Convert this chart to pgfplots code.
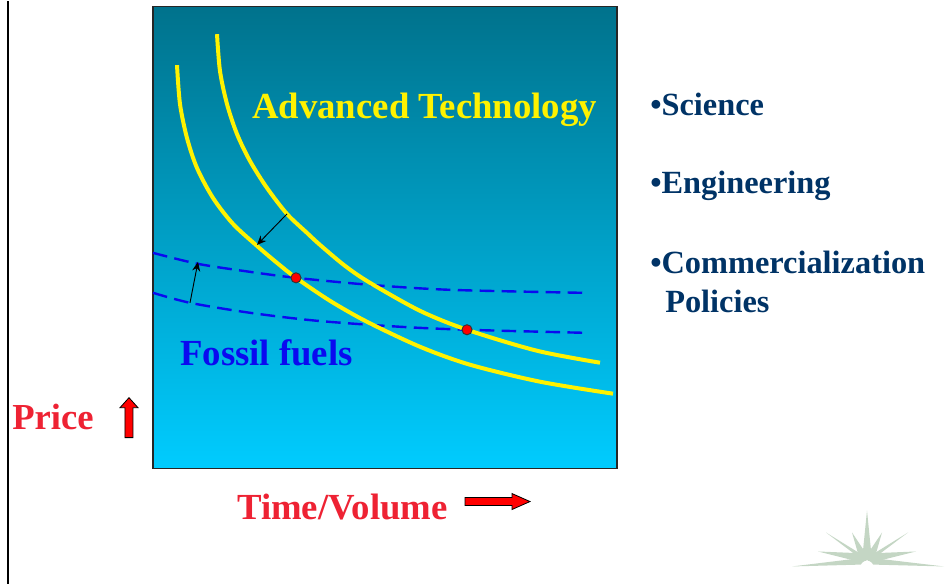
\documentclass[border=0pt]{standalone}
\usepackage{pgfplots}
\pgfplotsset{compat=1.18}
\usepackage{fontspec}
\setmainfont{Liberation Serif}
\usetikzlibrary{arrows.meta}
\definecolor{topc}{RGB}{0,114,140}
\definecolor{botc}{RGB}{0,204,255}
\definecolor{navy}{RGB}{0,51,102}
\definecolor{tred}{RGB}{238,34,51}
\definecolor{logoc}{RGB}{196,214,196}
\definecolor{fblue}{RGB}{10,10,240}
\begin{document}
\begin{tikzpicture}
\begin{axis}[
  scale only axis, width=348pt, height=347.25pt,
  xmin=153, xmax=617, ymin=5, ymax=468, y dir=reverse,
  xtick=\empty, ytick=\empty, clip=false,
  axis line style={line width=0.8pt, black!85},
  axis background/.style={shade, top color=topc, bottom color=botc},
]
% page extent
\path (axis cs:0,0) rectangle (axis cs:951,584);
% fossil fuel curves (dashed)
\addplot[fblue, line width=1.8pt, dash pattern=on 11pt off 5.5pt, smooth] coordinates {
 (153,252) (198,263) (250,271) (296,277) (370,284) (450,289) (583,292)};
\addplot[fblue, line width=1.8pt, dash pattern=on 11pt off 5.5pt, smooth] coordinates {
 (153,292) (190,302) (250,312) (317,320) (400,326) (467,329) (583,332)};
% advanced technology curves
\addplot[yellow, line width=3pt, smooth] coordinates {
 (217,33) (220,70) (227,103) (237,133) (250,160) (267,187) (287,213) (307,232)
 (320,244) (345,265) (370,282) (420,310) (467,329) (537,350) (600,362)};
\addplot[yellow, line width=3pt, smooth] coordinates {
 (177,64) (180,103) (187,137) (197,167) (213,197) (233,223) (257,245) (277,262)
 (296,277) (330,300) (367,321) (420,346) (470,364) (540,381) (613,393)};
% intersection dots
\addplot[only marks, mark=*, mark size=3.8pt, mark options={fill=red, draw=black!80, line width=0.7pt}] coordinates {(296,277) (467,329)};
% shift arrows
\draw[-{Stealth[length=7pt,width=6pt]}, line width=0.7pt] (axis cs:287,213) -- (axis cs:257,244);
\draw[-{Stealth[length=7pt,width=6pt]}, line width=0.7pt] (axis cs:190,302) -- (axis cs:198,261);
% texts in plot
\node[anchor=base west, inner sep=0, text=yellow, font=\bfseries\fontsize{27.6}{30}\selectfont] at (axis cs:252,117) {Advanced Technology};
\node[anchor=base west, inner sep=0, text=fblue, font=\bfseries\fontsize{27.6}{30}\selectfont] at (axis cs:180,365) {Fossil fuels};
% right bullet list
\node[anchor=base west, inner sep=0, text=navy, font=\bfseries\fontsize{24.3}{26}\selectfont] at (axis cs:650,114) {•Science};
\node[anchor=base west, inner sep=0, text=navy, font=\bfseries\fontsize{24.3}{26}\selectfont] at (axis cs:650,193) {•Engineering};
\node[anchor=base west, inner sep=0, text=navy, font=\bfseries\fontsize{24.3}{26}\selectfont] at (axis cs:650,273) {•Commercialization};
\node[anchor=base west, inner sep=0, text=navy, font=\bfseries\fontsize{24.3}{26}\selectfont] at (axis cs:665,312) {Policies};
% axis titles
\node[anchor=base west, inner sep=0, text=tred, font=\bfseries\fontsize{27.5}{30}\selectfont] at (axis cs:12,429) {Price};
\node[anchor=base west, inner sep=0, text=tred, font=\bfseries\fontsize{27.6}{30}\selectfont] at (axis cs:237,519) {Time/Volume};
% block arrows
\filldraw[fill=red, draw=black, line width=0.6pt]
 (axis cs:125,437) -- (axis cs:133,437) -- (axis cs:133,407) -- (axis cs:138,407)
 -- (axis cs:129,397) -- (axis cs:120,407) -- (axis cs:125,407) -- cycle;
\filldraw[fill=red, draw=black, line width=0.6pt]
 (axis cs:465,497) -- (axis cs:512,497) -- (axis cs:512,493) -- (axis cs:530,501)
 -- (axis cs:512,509) -- (axis cs:512,505) -- (axis cs:465,505) -- cycle;
% left rule
\draw[line width=1.8pt, black] (axis cs:8,0) -- (axis cs:8,584);
% logo starburst
\fill[logoc] (axis cs:862,560) -- (axis cs:867,510) -- (axis cs:872,560) -- cycle;
\fill[logoc] (axis cs:860,560) -- (axis cs:852,532) -- (axis cs:868,556) -- cycle;
\fill[logoc] (axis cs:874,560) -- (axis cs:882,532) -- (axis cs:866,556) -- cycle;
\fill[logoc] (axis cs:860,553) -- (axis cs:826,532) -- (axis cs:867,563) -- cycle;
\fill[logoc] (axis cs:874,553) -- (axis cs:908,532) -- (axis cs:867,563) -- cycle;
\fill[logoc] (axis cs:866,553) -- (axis cs:818,551) -- (axis cs:866,563) -- cycle;
\fill[logoc] (axis cs:868,553) -- (axis cs:916,551) -- (axis cs:868,563) -- cycle;
\fill[logoc] (axis cs:866,557) -- (axis cs:792,566) -- (axis cs:866,564) -- cycle;
\fill[logoc] (axis cs:868,557) -- (axis cs:944,566) -- (axis cs:868,564) -- cycle;
\fill[white] (axis cs:867,567) circle[radius=5pt];
\end{axis}
\end{tikzpicture}
\end{document}
